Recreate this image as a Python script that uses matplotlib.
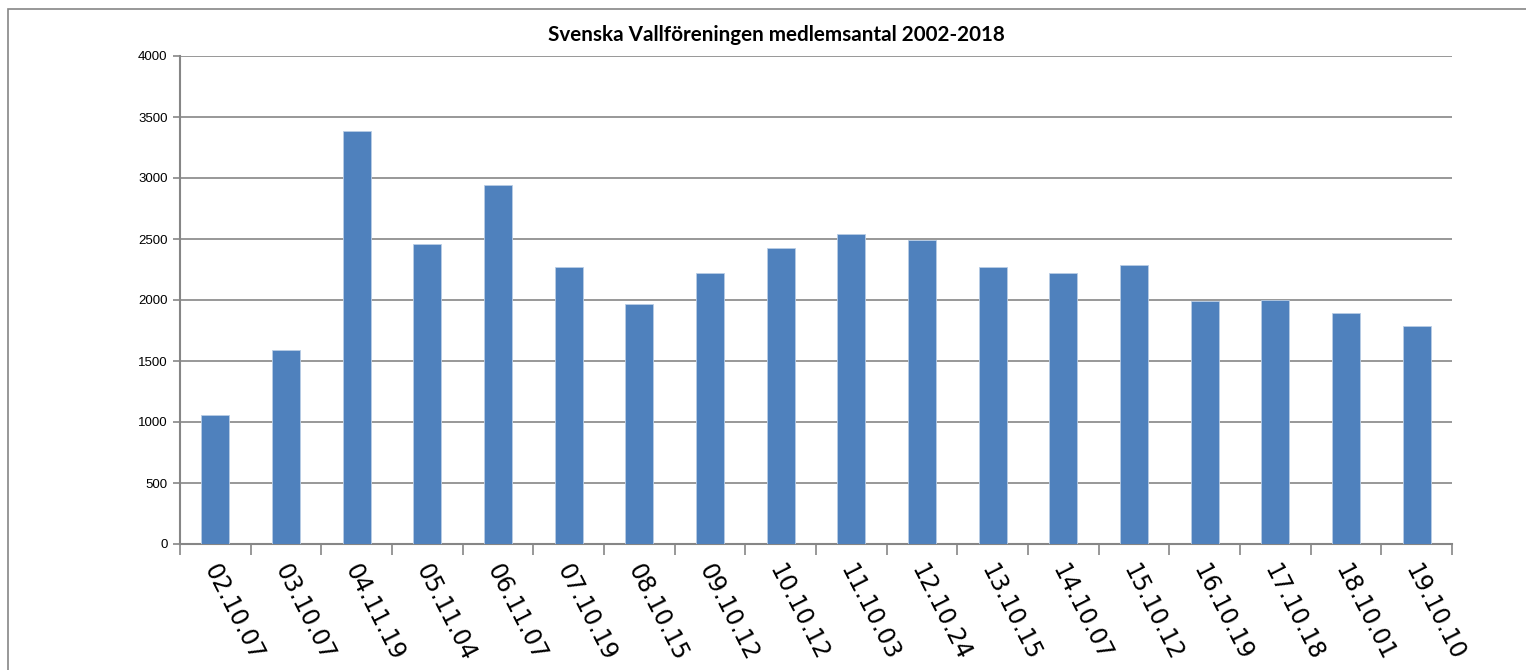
import matplotlib
matplotlib.use("Agg")
import matplotlib.pyplot as plt
from matplotlib.patches import Rectangle
import numpy as np

categories = ["02.10.07", "03.10.07", "04.11.19", "05.11.04", "06.11.07", "07.10.19",
              "08.10.15", "09.10.12", "10.10.12", "11.10.03", "12.10.24", "13.10.15",
              "14.10.07", "15.10.12", "16.10.19", "17.10.18", "18.10.01", "19.10.10"]
members = [1060, 1590, 3385, 2460, 2943, 2270, 1965, 2221, 2426, 2541, 2492, 2270,
           2220, 2287, 1988, 2000, 1895, 1787]
yticks = [0, 500, 1000, 1500, 2000, 2500, 3000, 3500, 4000]
title = "Svenska Vallföreningen medlemsantal 2002-2018"

W, H = 1526, 670
fig = plt.figure(figsize=(W / 100, H / 100), dpi=100)
ax = fig.add_axes([180 / W, 1 - 544 / H, (1452 - 180) / W, (544 - 56) / H])

gray = "#868686"
x = np.arange(len(categories))
ax.bar(x, members, width=0.4, color="#4f81bd", edgecolor="#b9cde5", linewidth=0.6, zorder=3)

ax.set_xlim(-0.5, len(categories) - 0.5)
ax.set_ylim(0, 4000)
ax.set_yticks(yticks)
ax.set_yticklabels([str(v) for v in yticks], fontsize=9.5, family="Liberation Sans")
ax.yaxis.grid(True, color=gray, linewidth=1.2, zorder=0)
ax.tick_params(axis="y", length=5, color=gray, width=1.2, pad=4)

ax.set_xticks(x)
ax.set_xticklabels([])
ax.set_xticks(np.arange(len(categories) + 1) - 0.5, minor=True)
ax.tick_params(axis="x", which="major", length=0)
ax.tick_params(axis="x", which="minor", length=8, color=gray, width=1.2)

for xi, lab in zip(x, categories):
    ax.text(xi - 0.08, -180, lab, rotation=-63, rotation_mode="anchor",
            ha="left", va="center", fontsize=17, family="DejaVu Sans",
            transform=ax.transData, clip_on=False)

for side in ["top", "right"]:
    ax.spines[side].set_visible(False)
for side in ["left", "bottom"]:
    ax.spines[side].set_color(gray)
    ax.spines[side].set_linewidth(1.5)

fig.text(776 / W, 1 - 35 / H, title, ha="center", va="center",
         fontsize=14.9, fontweight="bold", family="Lato")

fig.patches.append(Rectangle((8 / W, -0.1), 1.2, 1.1 - 9 / H, transform=fig.transFigure,
                             fill=False, edgecolor=gray, linewidth=1.2))

fig.savefig("out.png", dpi=100)
